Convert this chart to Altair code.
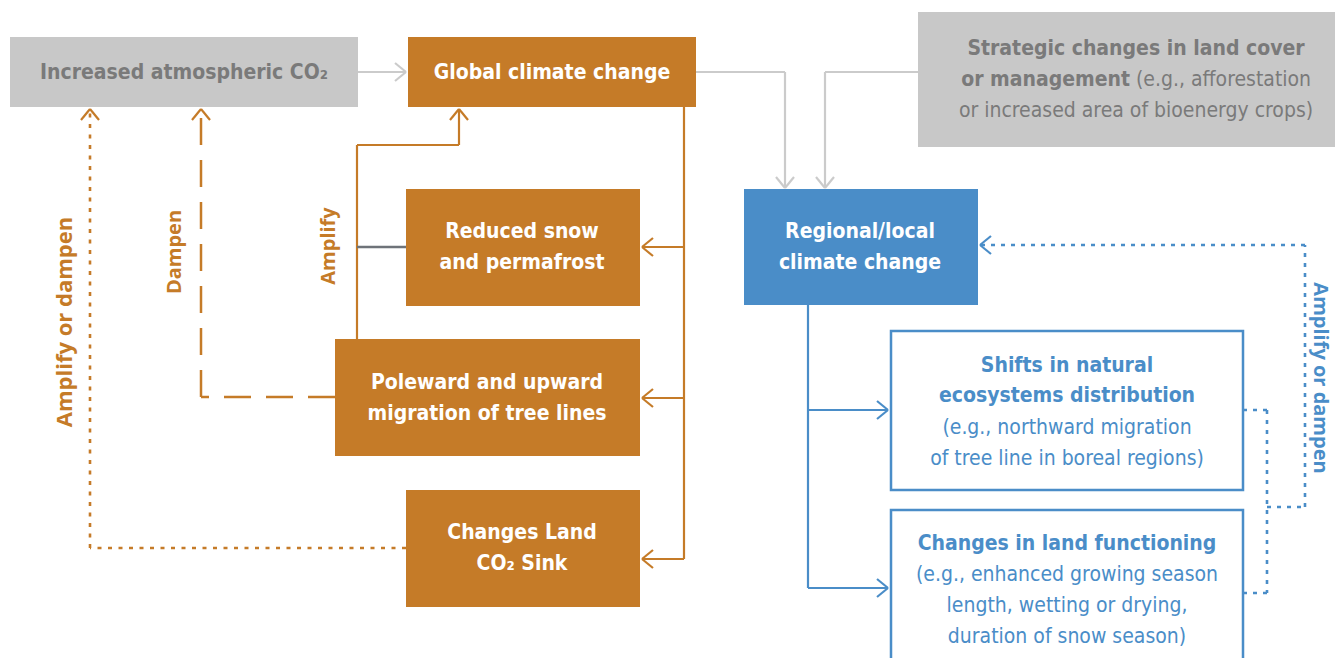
import altair as alt
import pandas as pd

# ---------------- data ----------------
ORANGE = "#C57B28"
BLUE = "#4A8DC8"
GRAY_BOX = "#C8C8C8"
GRAY_TXT = "#7A7A7A"
GRAY_LINE = "#CBCBCB"
DARK_LINE = "#6E7379"

# boxes: name, x0, x1, y0, y1, kind
box_names = ["co2", "global", "strategic", "regional", "snow", "tree", "sink", "shifts", "functioning"]
box_x0 = [10, 408, 918, 744, 406, 335, 406, 891, 891]
box_x1 = [358, 696, 1360, 978, 640, 640, 640, 1243, 1243]
box_y0 = [37, 37, 12, 189, 189, 339, 490, 331, 510]
box_y1 = [107, 107, 147, 305, 306, 456, 607, 490, 690]
box_kind = ["gray", "orange", "gray", "blue", "orange", "orange", "orange", "outline", "outline"]

# connector segments: x, y, x2, y2, style
seg_x = [358, 696, 785, 918, 825, 684, 684, 684, 684, 357, 357, 459, 357, 335, 201, 406, 90,
         808, 808, 808, 1243, 1267, 1243, 1267, 1305, 1305]
seg_y = [72, 72, 72, 72, 72, 107, 247, 398, 559, 339, 145, 145, 247, 397, 397, 548, 548,
         305, 410, 588, 410, 410, 593, 507, 507, 245]
seg_x2 = [406, 785, 785, 825, 825, 684, 642, 642, 642, 357, 459, 459, 406, 201, 201, 90, 90,
          808, 888, 888, 1267, 1267, 1267, 1305, 1305, 980]
seg_y2 = [72, 72, 188, 72, 188, 559, 247, 398, 559, 145, 145, 109, 247, 397, 109, 548, 109,
          588, 410, 588, 410, 593, 593, 507, 245, 245]
seg_style = ["gray"] * 5 + ["orange"] * 7 + ["dark"] + ["orange_dash"] * 2 + ["orange_dot"] * 2 + \
            ["blue"] * 3 + ["blue_dot"] * 6

# arrow tips: x, y, direction, colour group
tip_x = [406, 785, 825, 642, 642, 642, 459, 201, 90, 888, 888, 980]
tip_y = [72, 188, 188, 247, 398, 559, 109, 109, 109, 410, 588, 245]
tip_dir = ["right", "down", "down", "left", "left", "left", "up", "up", "up", "right", "right", "left"]
tip_col = ["gray", "gray", "gray", "orange", "orange", "orange", "orange", "orange", "orange",
           "blue", "blue", "blue"]

# texts: label, x, y, align, kind
txt_label = ["Increased atmospheric CO₂", "Global climate change",
             "Strategic changes in land cover", "or management", "(e.g., afforestation",
             "or increased area of bioenergy crops)",
             "Regional/local", "climate change",
             "Reduced snow", "and permafrost",
             "Poleward and upward", "migration of tree lines",
             "Changes Land", "CO₂ Sink",
             "Shifts in natural", "ecosystems distribution",
             "(e.g., northward migration", "of tree line in boreal regions)",
             "Changes in land functioning", "(e.g., enhanced growing season",
             "length, wetting or drying,", "duration of snow season)",
             "Amplify or dampen", "Dampen", "Amplify", "Amplify or dampen"]
txt_x = [184, 552, 1136, 1130, 1136, 1136, 860, 860, 522, 522, 487, 487, 522, 522,
         1067, 1067, 1067, 1067, 1067, 1067, 1067, 1067, 65, 175, 329, 1320]
txt_y = [73, 73, 49, 80, 80, 111, 232, 263, 232, 263, 383, 414, 533, 564,
         366, 396, 428, 459, 544, 575, 606, 637, 322, 252, 246, 378]
txt_align = ["center"] * 3 + ["right", "left"] + ["center"] * 21
txt_kind = ["gray_bold", "white", "gray_bold", "gray_bold", "gray_reg", "gray_reg",
            "white", "white", "white", "white", "white", "white", "white", "white",
            "blue_bold", "blue_bold", "blue_reg", "blue_reg", "blue_bold", "blue_reg", "blue_reg", "blue_reg",
            "orange_long", "orange_label", "orange_label", "blue_label"]

# ---------------- tables ----------------
FONT = "Liberation Sans Narrow, DejaVu Sans Condensed, Roboto, sans-serif"
LABEL_FONT = "Open Sans, Noto Sans, sans-serif"

boxes = pd.DataFrame(dict(name=box_names, x0=box_x0, x1=box_x1, y0=box_y0, y1=box_y1, kind=box_kind))
segs = pd.DataFrame(dict(x=seg_x, y=seg_y, x2=seg_x2, y2=seg_y2, style=seg_style))

ARM, SPREAD = 11, 9
heads = []
for x, y, d, c in zip(tip_x, tip_y, tip_dir, tip_col):
    if d == "right":
        pts = [(x - ARM, y - SPREAD), (x - ARM, y + SPREAD)]
    elif d == "left":
        pts = [(x + ARM, y - SPREAD), (x + ARM, y + SPREAD)]
    elif d == "up":
        pts = [(x - SPREAD, y + ARM), (x + SPREAD, y + ARM)]
    else:
        pts = [(x - SPREAD, y - ARM), (x + SPREAD, y - ARM)]
    for px, py in pts:
        heads.append(dict(x=px, y=py, x2=x, y2=y, col=c))
heads = pd.DataFrame(heads)
texts = pd.DataFrame(dict(label=txt_label, x=txt_x, y=txt_y, align=txt_align, kind=txt_kind))

W, H = 1327, 650
xs = alt.Scale(domain=[8, 8 + W], nice=False, zero=False)
ys = alt.Scale(domain=[8, 8 + H], nice=False, zero=False, reverse=True)
X = lambda f: alt.X(f, type="quantitative", scale=xs, axis=None)
Y = lambda f: alt.Y(f, type="quantitative", scale=ys, axis=None)

fill_map = {"gray": GRAY_BOX, "orange": ORANGE, "blue": BLUE, "outline": "#FFFFFF"}
layers = []
for k, col in fill_map.items():
    d = boxes[boxes.kind == k]
    kw = dict(fill=col, clip=True)
    if k == "outline":
        kw.update(stroke=BLUE, strokeWidth=2.5)
    layers.append(alt.Chart(d).mark_rect(**kw).encode(x=X("x0"), x2="x1", y=Y("y0"), y2="y1"))

seg_styles = {
    "gray": dict(color=GRAY_LINE, strokeWidth=2.2),
    "orange": dict(color=ORANGE, strokeWidth=2.2),
    "dark": dict(color=DARK_LINE, strokeWidth=2.5),
    "orange_dash": dict(color=ORANGE, strokeWidth=2.5, strokeDash=[27, 15]),
    "orange_dot": dict(color=ORANGE, strokeWidth=2.6, strokeDash=[4, 6.5]),
    "blue": dict(color=BLUE, strokeWidth=2.2),
    "blue_dot": dict(color=BLUE, strokeWidth=2.6, strokeDash=[4, 6]),
}
for k, st in seg_styles.items():
    d = segs[segs["style"] == k]
    layers.append(alt.Chart(d).mark_rule(**st).encode(x=X("x"), y=Y("y"), x2="x2", y2="y2"))

head_cols = {"gray": GRAY_LINE, "orange": ORANGE, "blue": BLUE}
for k, col in head_cols.items():
    d = heads[heads.col == k]
    layers.append(alt.Chart(d).mark_rule(color=col, strokeWidth=2.2).encode(x=X("x"), y=Y("y"), x2="x2", y2="y2"))

text_styles = {
    "white": dict(color="#FFFFFF", font=FONT, fontWeight="bold", fontSize=21),
    "gray_bold": dict(color=GRAY_TXT, font=FONT, fontWeight="bold", fontSize=21),
    "gray_reg": dict(color=GRAY_TXT, font=FONT, fontWeight="normal", fontSize=21),
    "blue_bold": dict(color=BLUE, font=FONT, fontWeight="bold", fontSize=21),
    "blue_reg": dict(color=BLUE, font=FONT, fontWeight="normal", fontSize=21),
    "orange_long": dict(color=ORANGE, font=LABEL_FONT, fontWeight="bold", fontSize=22, angle=270),
    "orange_label": dict(color=ORANGE, font=LABEL_FONT, fontWeight="bold", fontSize=20, angle=270),
    "blue_label": dict(color=BLUE, font=LABEL_FONT, fontWeight="bold", fontSize=20, angle=90),
}
for k, st in text_styles.items():
    for al in ["left", "center", "right"]:
        d = texts[(texts.kind == k) & (texts["align"] == al)]
        if len(d) == 0:
            continue
        layers.append(alt.Chart(d).mark_text(baseline="middle", align=al, **st)
                      .encode(x=X("x"), y=Y("y"), text="label:N"))

chart = alt.layer(*layers).properties(
    width=W, height=H, padding=0, autosize=alt.AutoSizeParams(type="none")
).configure_view(stroke=None)

chart.save("out.html", embed_options={"renderer": "svg", "actions": False})
